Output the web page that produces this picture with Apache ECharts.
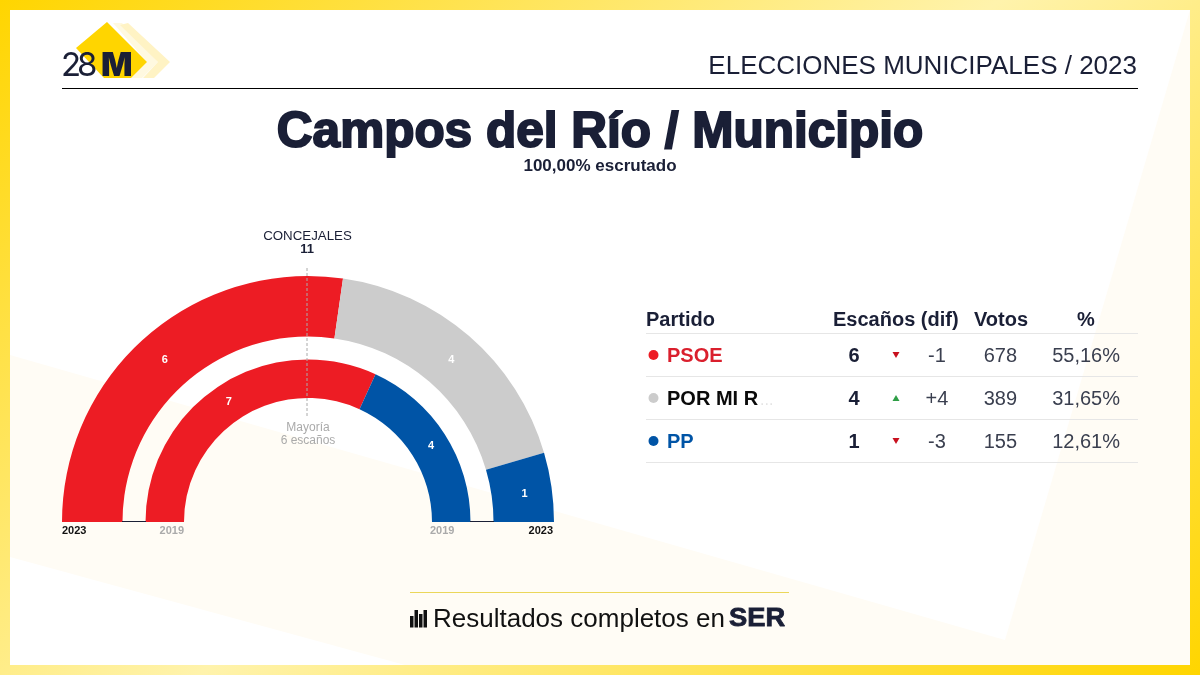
<!DOCTYPE html>
<html><head><meta charset="utf-8">
<style>html,body{margin:0;padding:0;background:#fff}#c{width:1200px;height:675px}</style>
<script src="https://cdn.jsdelivr.net/npm/echarts@6/dist/echarts.min.js"></script>
</head><body><div id="c"></div>
<script>
const partidos = ['PSOE','POR MI R','PP'];
const colores = ['#ED1C24','#CCCCCC','#0054A6'];
const nombreColor = ['#DA1F2D','#0A0A0A','#0054A6'];
const escanos2023 = [6,4,1];
const escanos2019 = [7,0,4];
const difTexto = ['-1','+4','-3'];
const votos = ['678','389','155'];
const pct = ['55,16%','31,65%','12,61%'];
const cabecera = ['Partido','Escaños (dif)','Votos','%'];
const chart = echarts.init(document.getElementById('c'),null,{renderer:'canvas'});
const navy='#1A1F36', F='"Liberation Sans",Arial,sans-serif';
const T=(text,x,y,font,fill,align,extra)=>Object.assign({type:'text',z:50,silent:true,style:Object.assign({text,x,y,font:font+' '+F,fill,align:align||'left',verticalAlign:'middle'},extra||{})});
const P=(points,fill,z)=>({type:'polygon',z:z,silent:true,shape:{points},style:{fill}});
const L=(x1,y1,x2,y2,stroke,w,dash)=>({type:'line',z:50,silent:true,shape:{x1,y1,x2,y2},style:{stroke,lineWidth:w,lineDash:dash||null}});
const g=[];
g.push({type:'rect',z:-20,silent:true,shape:{x:0,y:0,width:1200,height:675},style:{fill:new echarts.graphic.LinearGradient(184,-156,1016,830,[{offset:0,color:'#FFD500'},{offset:.5,color:'#FFF3AC'},{offset:1,color:'#FFD500'}],true)}});
g.push({type:'rect',z:-19,silent:true,shape:{x:10,y:10,width:1180,height:655},style:{fill:'#FFFFFF'}});
g.push(P([[10,355],[1005,640],[1190,10],[1190,665],[405,665],[10,557]],'#FFFCF5',-18));
// logo
g.push(P([[128,23],[170,62],[154,78],[143,78],[158,62],[120,25]],'#FFF3C4',-5));
g.push(P([[113,23],[122,23],[158,62],[142,78],[131,78],[147,62]],'#FFF9E0',-6));
g.push(P([[107,22],[147,62],[131,78],[104,78],[76,48]],'#FFD500',-4));
const logoFont='400 33px Inter,'+F;
g.push(T('2',61,66,'',navy,'left',{font:logoFont}));
g.push(T('8',77,66,'',navy,'left',{font:logoFont}));
g.push(T('M',101,66,'',navy,'left',{font:'900 33px Inter,'+F}));
g.push(T('ELECCIONES MUNICIPALES / 2023',1137,67,'26px',navy,'right'));
g.push(L(62,88.5,1138,88.5,'#000',1));
g.push(T('Campos del Río / Municipio',600,133,'bold 49.5px',navy,'center',{stroke:navy,lineWidth:2}));
g.push(T('100,00% escrutado',600,166,'bold 17px',navy,'center'));
// chart annotations
g.push(T('CONCEJALES',307.5,236.5,'13.3px',navy,'center'));
g.push(T('11',307,249.5,'bold 13px',navy,'center'));
g.push(L(307,268,307,418,'#AAAAAA',1,[3,2]));
g.push(T('Mayoría',308,428,'12px','#AAAAAA','center'));
g.push(T('6 escaños',308,441,'12px','#AAAAAA','center'));
g.push(L(122,521.5,146,521.5,navy,1));
g.push(L(470,521.5,494,521.5,navy,1));
g.push(T('2023',62,531,'bold 11px','#111','left'));
g.push(T('2019',184,531,'bold 11px','#AAAAAA','right'));
g.push(T('2019',430,531,'bold 11px','#AAAAAA','left'));
g.push(T('2023',553,531,'bold 11px','#111','right'));
// table
const H=320;
g.push(T(cabecera[0],646,H,'bold 20px',navy));
g.push(T(cabecera[1],833,H,'bold 20px',navy));
g.push(T(cabecera[2],974,H,'bold 20px',navy));
g.push(T(cabecera[3],1086,H,'bold 20px',navy,'center'));
g.push(L(646,333.5,1138,333.5,'#E6E6E6',1));
partidos.forEach((p,i)=>{
  const y=355+43*i, ty=y+1;
  g.push({type:'circle',z:50,silent:true,shape:{cx:653.5,cy:y,r:5},style:{fill:colores[i]}});
  g.push(T(p,667,ty,'bold 20px',nombreColor[i]));
  if(i===1) g.push(T('...',760,y+3,'16px','#E4E4E4'));
  g.push(T(String(escanos2023[i]),854,ty,'bold 20px',navy,'center'));
  const up=difTexto[i][0]==='+';
  g.push(P(up?[[896,y-3],[899.5,y+3],[892.5,y+3]]:[[892.5,y-3],[899.5,y-3],[896,y+3]],up?'#2E9E46':'#C8101E',50));
  g.push(T(difTexto[i],937,ty,'20px','#3A3F4F','center'));
  g.push(T(votos[i],1017,ty,'20px','#3A3F4F','right'));
  g.push(T(pct[i],1120,ty,'20px','#3A3F4F','right'));
  g.push(L(646,y+21.5,1138,y+21.5,'#E6E6E6',1));
});
// footer
g.push(L(410,592.5,789,592.5,'#EBD75A',1));
[[410,616],[414.5,610],[419,614],[423.5,610]].forEach(b=>g.push({type:'rect',z:50,silent:true,shape:{x:b[0],y:b[1],width:3.5,height:627.5-b[1]},style:{fill:'#111'}}));
g.push(T('Resultados completos en',433,620,'26px','#111'));
g.push(Object.assign(T('SER',0,0,'bold 26px',navy,'left',{stroke:navy,lineWidth:.8}),{x:729,y:619,scaleX:1.05}));

const anillo=(name,vals,radius)=>({type:'pie',name,center:[308,522],radius,startAngle:180,endAngle:0,silent:true,animation:false,avoidLabelOverlap:false,z:5,
  data:vals.map((v,i)=>({name:partidos[i],value:v,itemStyle:{color:colores[i]}})).filter(d=>d.value>0),
  label:{show:true,position:'inside',formatter:'{c}',color:'#fff',fontWeight:'bold',fontSize:11,fontFamily:F,offset:[0,3]},labelLine:{show:false}});
chart.setOption({animation:false,graphic:{elements:g},series:[anillo('2023',escanos2023,[185.5,246]),anillo('2019',escanos2019,[124,162.5])]});
</script></body></html>
